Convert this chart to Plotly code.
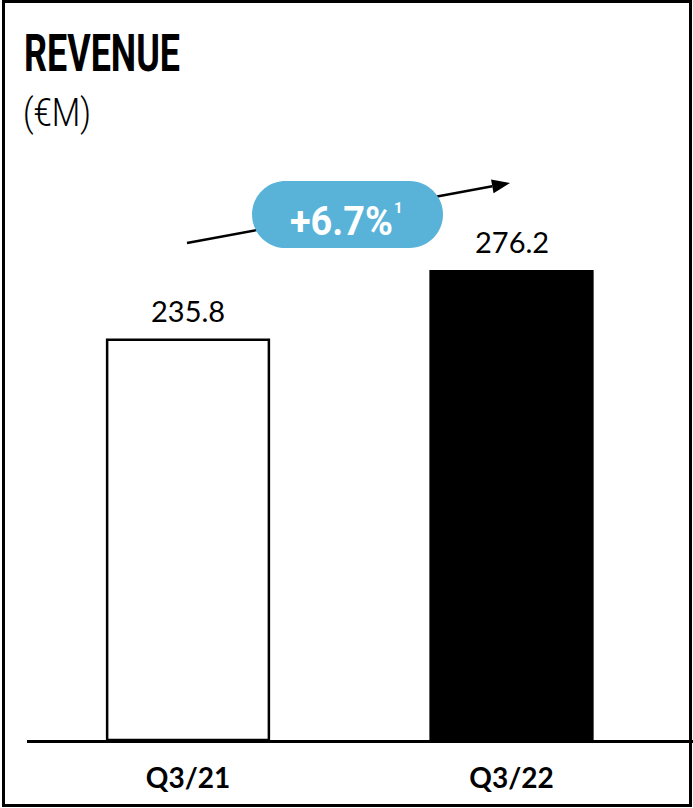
import plotly.graph_objects as go

# ---- data ----
categories = ["Q3/21", "Q3/22"]
revenue = [235.8, 276.2]
value_labels = ["235.8", "276.2"]
growth_label = "+6.7%"
growth_note = "1"
title_text = "REVENUE"
unit_text = "(€M)"

# ---- geometry helpers (figure pixel -> paper) ----
W, H = 693, 808
ML, MR, MT, MB = 27, 0, 150, 68
PW, PH = W - ML - MR, H - MT - MB


def px(x):
    return (x - ML) / PW


def py(y):
    return (H - MB - y) / PH


COND = "Roboto, DejaVu Sans, sans-serif"
BODY = "Lato, Open Sans, sans-serif"

fig = go.Figure()
fig.add_trace(go.Bar(
    x=categories,
    y=revenue,
    width=0.5,
    marker=dict(color=["white", "black"],
                line=dict(color="black", width=2.5)),
    showlegend=False,
    hoverinfo="skip",
))

annotations = []
for c, v, t in zip(categories, revenue, value_labels):
    annotations.append(dict(x=c, y=v, xref="x", yref="y", text=t,
                            showarrow=False, yanchor="bottom", yshift=10,
                            font=dict(family=BODY, size=29, color="black")))

annotations += [
    dict(x=px(22), y=py(53), xref="paper", yref="paper", text=title_text,
         showarrow=False, xanchor="left", yanchor="middle",
         font=dict(family=COND, size=52, color="black", weight="bold")),
    dict(x=px(21), y=py(113), xref="paper", yref="paper", text=unit_text,
         showarrow=False, xanchor="left", yanchor="middle",
         font=dict(family=COND, size=38, color="black", weight=300)),
    dict(x=px(341), y=py(221), xref="paper", yref="paper", text=growth_label,
         showarrow=False, xanchor="center", yanchor="middle",
         font=dict(family=COND, size=40, color="white", weight="bold")),
    dict(x=px(399), y=py(208), xref="paper", yref="paper", text=growth_note,
         showarrow=False, xanchor="center", yanchor="middle",
         font=dict(family=COND, size=15, color="white", weight="bold")),
]

# pill badge path (pixels -> paper) using cubic beziers
k = 0.5523
x0b, x1b, y0b, y1b = 252, 443, 181, 248
r = (y1b - y0b) / 2
cy = (y0b + y1b) / 2
c1, c2 = x0b + r, x1b - r


def P(x, y):
    return f"{px(x):.5f},{py(y):.5f}"


pill = (f"M {P(c1, cy - r)} L {P(c2, cy - r)} "
        f"C {P(c2 + k * r, cy - r)} {P(c2 + r, cy - k * r)} {P(c2 + r, cy)} "
        f"C {P(c2 + r, cy + k * r)} {P(c2 + k * r, cy + r)} {P(c2, cy + r)} "
        f"L {P(c1, cy + r)} "
        f"C {P(c1 - k * r, cy + r)} {P(c1 - r, cy + k * r)} {P(c1 - r, cy)} "
        f"C {P(c1 - r, cy - k * r)} {P(c1 - k * r, cy - r)} {P(c1, cy - r)} Z")

# arrow
tail = (187, 243)
tip = (510, 183)
dx, dy = tip[0] - tail[0], tip[1] - tail[1]
n = (dx ** 2 + dy ** 2) ** 0.5
ux, uy = dx / n, dy / n
nx, ny = -uy, ux
hl, hw = 18, 7
bx, by = tip[0] - hl * ux, tip[1] - hl * uy
head = f"M {P(*tip)} L {P(bx + hw * nx, by + hw * ny)} L {P(bx - hw * nx, by - hw * ny)} Z"

shapes = [
    dict(type="line", xref="paper", yref="paper",
         x0=px(tail[0]), y0=py(tail[1]), x1=px(bx), y1=py(by),
         line=dict(color="black", width=2.5), layer="above"),
    dict(type="path", xref="paper", yref="paper", path=head,
         fillcolor="black", line=dict(width=0), layer="above"),
    dict(type="path", xref="paper", yref="paper", path=pill,
         fillcolor="#59B3D9", line=dict(width=0), layer="above"),
    dict(type="rect", xref="paper", yref="paper",
         x0=px(3.5), y0=py(805.5), x1=px(690.5), y1=py(1.5),
         line=dict(color="black", width=3), fillcolor="rgba(0,0,0,0)", layer="above"),
]

pxu = ((740 - 271) / 276.2 + (740 - 340) / 235.8) / 2
fig.update_layout(
    width=W, height=H,
    margin=dict(l=ML, r=MR, t=MT, b=MB),
    paper_bgcolor="white", plot_bgcolor="white",
    annotations=annotations, shapes=shapes,
    xaxis=dict(type="category", range=[-(188 - ML) / 323.5, (W - 188) / 323.5],
               showline=True, linecolor="black", linewidth=2.5,
               showgrid=False, zeroline=False, ticks="", ticklabelstandoff=12,
               tickfont=dict(family=BODY, size=28, color="black", weight="bold")),
    yaxis=dict(range=[0, PH / pxu], visible=False, showgrid=False, zeroline=False),
    bargap=0.5,
)

# remove page margin; narrow the condensed-style texts to the reference widths
post = """
document.body.style.margin = '0';
var gd = document.getElementById('{plot_id}');
var targets = [[2, 156, 'left center'], [3, 68, 'left center'], [4, 103, 'center']];
targets.forEach(function (t) {
  var el = gd.querySelector('g.annotation[data-index="' + t[0] + '"] text.annotation-text');
  if (!el) return;
  var w = el.getBBox().width;
  if (w > 0) {
    el.style.transformBox = 'fill-box';
    el.style.transformOrigin = t[2];
    el.style.transform = 'scaleX(' + (t[1] / w) + ')';
  }
});
"""

fig.write_html("out.html", post_script=post, config={"displayModeBar": False})
